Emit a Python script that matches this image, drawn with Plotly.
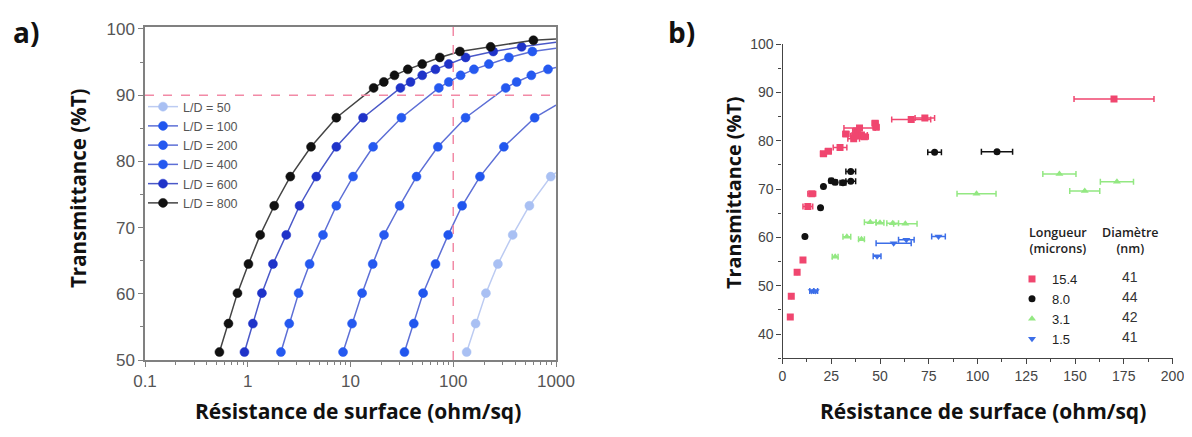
import plotly.graph_objects as go

# ---------------- Panel a data ----------------
ld_names = ["L/D = 50", "L/D = 100", "L/D = 200", "L/D = 400", "L/D = 600", "L/D = 800"]

rs_ld50 = [135, 165, 208, 272, 379, 551, 889]
t_ld50 = [51.2, 55.5, 60.1, 64.5, 68.9, 73.3, 77.7]

rs_ld100 = [33.5, 41.3, 50.9, 67.2, 89.3, 122, 182, 311, 620]
t_ld100 = [51.2, 55.5, 60.1, 64.5, 68.9, 73.3, 77.7, 82.2, 86.6]

rs_ld200 = [8.46, 10.35, 12.97, 16.45, 21.2, 30.1, 43.9, 70.8, 131.8, 324, 414, 575, 836]
t_ld200 = [51.2, 55.5, 60.1, 64.5, 68.9, 73.3, 77.7, 82.2, 86.6, 91.1, 92.0, 93.0, 93.9]

rs_ld400 = [2.104, 2.534, 3.126, 4.0, 5.40, 7.28, 10.59, 16.6, 31.3, 72.4, 90.5, 118, 159, 222, 348, 589]
t_ld400 = [51.2, 55.5, 60.1, 64.5, 68.9, 73.3, 77.7, 82.2, 86.6, 91.1, 92.0, 93.0, 93.9, 94.7, 95.7, 96.6]

rs_ld600 = [0.929, 1.122, 1.373, 1.759, 2.371, 3.193, 4.645, 7.28, 13.25, 30.6, 38.4, 49.9, 67.1, 90.5, 132, 245, 463]
t_ld600 = [51.2, 55.5, 60.1, 64.5, 68.9, 73.3, 77.7, 82.2, 86.6, 91.1, 92.0, 93.0, 93.9, 94.7, 95.7, 96.6, 97.3]

rs_ld800 = [0.53, 0.649, 0.794, 1.016, 1.322, 1.81, 2.593, 4.127, 7.28, 16.8, 21.1, 26.8, 36.1, 49.9, 74, 116, 231, 603]
t_ld800 = [51.2, 55.5, 60.1, 64.5, 68.9, 73.3, 77.7, 82.2, 86.6, 91.1, 92.0, 93.0, 93.9, 94.7, 95.7, 96.6, 97.3, 98.3]

# curve value where each line leaves the frame at Rs = 1000
edge_rs = 1000
edge_t = [78.3, 88.5, 94.2, 97.1, 98.0, 98.5]

ref_rs = 100      # dashed reference lines
ref_t = 90

# ---------------- Panel b data ----------------
b_names = ["15.4", "8.0", "3.1", "1.5"]
b_diam = ["41", "44", "42", "41"]

red_x = [4.0, 4.5, 7.5, 10.5, 13.0, 15.0, 21.0, 23.5, 29.5, 32.5, 36.5, 38.0, 39.5, 40.5, 42.0, 37.0, 47.5, 48.0, 66.0, 73.0, 170.0]
red_y = [43.5, 47.8, 52.8, 55.3, 66.4, 69.0, 77.3, 77.8, 78.6, 81.4, 80.4, 82.0, 82.6, 81.2, 80.8, 81.0, 83.6, 82.8, 84.4, 84.7, 88.6]
red_e = [0, 0, 0, 0, 2.5, 2.0, 1.5, 1.5, 3.5, 1.5, 3.0, 2.0, 8.0, 3.0, 2.0, 2.0, 1.5, 1.5, 10.0, 5.0, 20.5]

blk_x = [11.5, 19.5, 21.0, 25.0, 27.0, 31.0, 35.0, 35.0, 78.0, 110.0]
blk_y = [60.2, 66.1, 70.5, 71.7, 71.4, 71.3, 71.6, 73.6, 77.6, 77.7]
blk_e = [0, 0, 0, 1.0, 1.0, 1.5, 2.5, 2.5, 3.5, 8.0]

grn_x = [27.0, 33.0, 40.5, 45.0, 50.0, 56.5, 63.0, 99.5, 142.0, 155.0, 171.5]
grn_y = [56.0, 60.1, 59.6, 63.1, 63.0, 62.9, 62.8, 69.0, 73.1, 69.6, 71.5]
grn_e = [1.5, 2.0, 1.5, 3.0, 2.0, 3.0, 6.0, 10.0, 8.5, 7.7, 8.5]

blu_x = [15.0, 17.0, 48.5, 57.0, 63.5, 80.0]
blu_y = [48.9, 48.9, 56.1, 58.8, 59.5, 60.2]
blu_e = [1.0, 1.0, 2.0, 9.0, 4.0, 3.5]

# ---------------- styling ----------------
# figure sized so that, with the page's 8px body margin, it fills the 1192x437 window
OFF = 8
W, H = 1192 - 2 * OFF, 437 - 2 * OFF
def px(x): return (x - OFF) / W
def py(y): return 1 - (y - OFF) / H

a_marker = ["#a9c0f3", "#2156ee", "#2559f0", "#2559f0", "#1f33c9", "#111111"]
a_line = ["#bccbf2", "#5d6fd6", "#5d6fd6", "#5d6fd6", "#4a58c8", "#444444"]
b_colors = ["#f0466f", "#111111", "#93e882", "#3c6ee8"]
b_symbols = ["square", "circle", "triangle-up", "triangle-down"]

log_minor = [k * 10.0 ** d for d in range(-1, 3) for k in range(2, 10)]

fig = go.Figure()

series_a = [(rs_ld50, t_ld50), (rs_ld100, t_ld100), (rs_ld200, t_ld200),
            (rs_ld400, t_ld400), (rs_ld600, t_ld600), (rs_ld800, t_ld800)]
for i, (xs, ts) in enumerate(series_a):
    fig.add_trace(go.Scatter(x=[xs[-1], edge_rs], y=[ts[-1], edge_t[i]], mode="lines",
                             line=dict(color=a_line[i], width=1.5), showlegend=False,
                             hoverinfo="skip", xaxis="x", yaxis="y"))
for i, (xs, ts) in enumerate(series_a):
    fig.add_trace(go.Scatter(x=xs, y=ts, mode="lines+markers", name=ld_names[i],
                             line=dict(color=a_line[i], width=1.5),
                             marker=dict(color=a_marker[i], size=9,
                                         line=dict(color=a_marker[i], width=0.5)),
                             xaxis="x", yaxis="y", legend="legend"))

series_b = [(red_x, red_y, red_e), (blk_x, blk_y, blk_e), (grn_x, grn_y, grn_e), (blu_x, blu_y, blu_e)]
for i, (xs, ys, es) in enumerate(series_b):
    fig.add_trace(go.Scatter(x=xs, y=ys, mode="markers", name=b_names[i],
                             marker=dict(color=b_colors[i], size=7, symbol=b_symbols[i]),
                             error_x=dict(type="data", array=es, visible=True,
                                          color=b_colors[i], thickness=1.5, width=3),
                             xaxis="x2", yaxis="y2", legend="legend2"))

# dashed reference lines in panel a
fig.add_shape(type="line", xref="x", yref="y", x0=0.1, x1=1000, y0=ref_t, y1=ref_t,
              line=dict(color="#f28aa6", width=1.5, dash="dash"))
fig.add_shape(type="line", xref="x", yref="y", x0=ref_rs, x1=ref_rs, y0=50, y1=100.3,
              line=dict(color="#f28aa6", width=1.5, dash="dash"))

tickfont_a = dict(family="Liberation Sans, Arial", size=17, color="#555555")
tickfont_b = dict(family="Liberation Sans, Arial", size=14, color="#444444")
def tfont(s): return dict(family="Open Sans", size=s, color="#111111", weight=700)

fig.update_layout(
    width=W, height=H, margin=dict(l=0, r=0, t=0, b=0, autoexpand=False),
    paper_bgcolor="white", plot_bgcolor="white",
    xaxis=dict(type="log", range=[-1, 3], domain=[px(145), px(556)], anchor="y",
               showline=True, linecolor="#808080", linewidth=1.5, mirror=True,
               ticks="outside", ticklen=5, tickcolor="#808080",
               tickvals=[0.1, 1, 10, 100, 1000], ticktext=["0.1", "1", "10", "100", "1000"],
               minor=dict(ticks="outside", ticklen=3, tickcolor="#808080",
                          tickmode="array", tickvals=log_minor),
               showgrid=False, zeroline=False, tickfont=tickfont_a, ticklabeloverflow="allow"),
    yaxis=dict(range=[50, 100.3], domain=[py(360), py(27)], anchor="x",
               showline=True, linecolor="#808080", linewidth=1.5, mirror=True,
               ticks="outside", ticklen=5, tickcolor="#808080",
               tickvals=[50, 60, 70, 80, 90, 100],
               minor=dict(ticks="outside", ticklen=3, tickcolor="#808080", dtick=5),
               showgrid=False, zeroline=False, tickfont=tickfont_a, ticklabeloverflow="allow"),
    xaxis2=dict(range=[0, 200], domain=[px(782.5), px(1172.5)], anchor="y2",
                showline=True, linecolor="#444444", linewidth=1.2,
                ticks="outside", ticklen=5, tickcolor="#444444",
                tickvals=[0, 25, 50, 75, 100, 125, 150, 175, 200],
                minor=dict(ticks="outside", ticklen=3, tickcolor="#444444", dtick=12.5),
                showgrid=False, zeroline=False, tickfont=tickfont_b, ticklabeloverflow="allow"),
    yaxis2=dict(range=[35, 100], domain=[py(358.2), py(44)], anchor="x2",
                showline=True, linecolor="#444444", linewidth=1.2,
                ticks="outside", ticklen=5, tickcolor="#444444",
                tickvals=[40, 50, 60, 70, 80, 90, 100],
                minor=dict(ticks="outside", ticklen=3, tickcolor="#444444", dtick=5),
                showgrid=False, zeroline=False, tickfont=tickfont_b, ticklabeloverflow="allow"),
    legend=dict(x=px(143), y=py(92), xanchor="left", yanchor="top",
                bgcolor="rgba(0,0,0,0)", font=dict(family="Liberation Sans, Arial", size=12.5, color="#555555"),
                itemwidth=30, tracegroupgap=0),
    legend2=dict(x=px(1012), y=py(264), xanchor="left", yanchor="top",
                 bgcolor="rgba(0,0,0,0)", font=dict(family="Liberation Sans, Arial", size=13, color="#222222"),
                 itemwidth=30, tracegroupgap=0),
    showlegend=True,
)

ann = [
    dict(text="<b>a)</b>", x=px(26), y=py(32), font=dict(family="Open Sans", size=28, color="#111")),
    dict(text="<b>b)</b>", x=px(681), y=py(32), font=dict(family="Open Sans", size=28, color="#111")),
    dict(text="<b>Transmittance (%T)</b>", x=px(78), y=py(188), textangle=-90, font=tfont(20.5)),
    dict(text="<b>Résistance de surface (ohm/sq)</b>", x=px(358), y=py(411), font=tfont(21)),
    dict(text="<b>Transmittance (%T)</b>", x=px(733), y=py(193), textangle=-90, font=tfont(19.8)),
    dict(text="<b>Résistance de surface (ohm/sq)</b>", x=px(983), y=py(411), font=tfont(21)),
    dict(text="Longueur<br>(microns)", x=px(1058), y=py(241),
         font=dict(family="Open Sans", size=12.5, color="#222", weight=600)),
    dict(text="Diamètre<br>(nm)", x=px(1130), y=py(241),
         font=dict(family="Open Sans", size=12.5, color="#222", weight=600)),
]
rows_y = [276.7, 296.7, 317.3, 337.3]
for d, yy in zip(b_diam, rows_y):
    ann.append(dict(text=d, x=px(1130), y=py(yy), font=dict(family="Liberation Sans, Arial", size=14, color="#333")))
for a in ann:
    a.setdefault("xref", "paper"); a.setdefault("yref", "paper")
    a["showarrow"] = False
    a["xanchor"] = "center"; a["yanchor"] = "middle"
fig.update_layout(annotations=ann)

fig.write_html("out.html")
